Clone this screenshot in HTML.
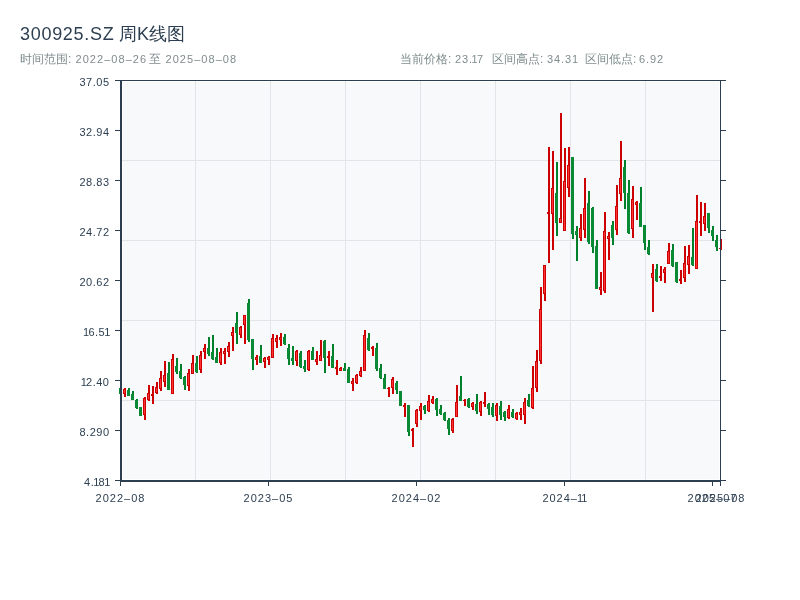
<!DOCTYPE html>
<html><head><meta charset="utf-8"><style>
html,body{margin:0;padding:0;background:#fff;}
body{width:800px;height:600px;position:relative;overflow:hidden;font-family:"Liberation Sans",sans-serif;}
#wrap{position:absolute;left:0;top:0;width:800px;height:600px;will-change:transform;}
.t{position:absolute;white-space:nowrap;line-height:1;}
.ti{font-size:18px;color:#2c3e50;}
.s{font-size:12px;color:#7f8c8d;}
.n{font-size:11px;letter-spacing:0.9px;}
.d{letter-spacing:1.05px;}
.ax{font-size:11px;color:#2c3e50;letter-spacing:0.75px;}
.yl{width:60px;text-align:right;letter-spacing:0.5px;}
.one{margin-left:-1px;letter-spacing:-0.8px;}
.xl{width:80px;text-align:center;letter-spacing:1px;}
svg{position:absolute;left:0;top:0;}
</style></head><body><div id="wrap">
<svg width="800" height="600" viewBox="0 0 800 600" shape-rendering="crispEdges">
<rect x="123" y="82" width="596" height="397" fill="#f8f9fa"/>
<rect x="195" y="81" width="1" height="399" fill="#e1e4e8"/>
<rect x="270" y="81" width="1" height="399" fill="#e1e4e8"/>
<rect x="345" y="81" width="1" height="399" fill="#e1e4e8"/>
<rect x="420" y="81" width="1" height="399" fill="#e1e4e8"/>
<rect x="495" y="81" width="1" height="399" fill="#e1e4e8"/>
<rect x="570" y="81" width="1" height="399" fill="#e1e4e8"/>
<rect x="645" y="81" width="1" height="399" fill="#e1e4e8"/>
<rect x="122" y="160" width="598" height="1" fill="#e1e4e8"/>
<rect x="122" y="240" width="598" height="1" fill="#e1e4e8"/>
<rect x="122" y="320" width="598" height="1" fill="#e1e4e8"/>
<rect x="122" y="400" width="598" height="1" fill="#e1e4e8"/>
<rect x="120" y="388" width="2" height="6" fill="#00802b"/>
<rect x="119" y="388" width="3" height="6" fill="#0a8a35"/>
<rect x="124" y="388" width="2" height="9" fill="#cc0000"/>
<rect x="123" y="389" width="3" height="5" fill="#cc0000"/>
<rect x="124" y="390" width="1" height="3" fill="#ff3333"/>
<rect x="128" y="388" width="2" height="8" fill="#00802b"/>
<rect x="127" y="390" width="3" height="6" fill="#0a8a35"/>
<rect x="132" y="391" width="2" height="9" fill="#00802b"/>
<rect x="131" y="394" width="3" height="6" fill="#0a8a35"/>
<rect x="136" y="399" width="2" height="10" fill="#00802b"/>
<rect x="135" y="400" width="3" height="8" fill="#0a8a35"/>
<rect x="140" y="407" width="2" height="9" fill="#00802b"/>
<rect x="139" y="407" width="3" height="9" fill="#0a8a35"/>
<rect x="144" y="397" width="2" height="23" fill="#cc0000"/>
<rect x="143" y="398" width="3" height="17" fill="#cc0000"/>
<rect x="144" y="399" width="1" height="15" fill="#ff3333"/>
<rect x="148" y="385" width="2" height="16" fill="#cc0000"/>
<rect x="147" y="393" width="3" height="7" fill="#cc0000"/>
<rect x="148" y="394" width="1" height="5" fill="#ff3333"/>
<rect x="152" y="386" width="2" height="18" fill="#cc0000"/>
<rect x="151" y="394" width="3" height="2" fill="#cc0000"/>
<rect x="156" y="382" width="2" height="12" fill="#cc0000"/>
<rect x="155" y="387" width="3" height="6" fill="#cc0000"/>
<rect x="156" y="388" width="1" height="4" fill="#ff3333"/>
<rect x="160" y="371" width="2" height="20" fill="#cc0000"/>
<rect x="159" y="378" width="3" height="11" fill="#cc0000"/>
<rect x="160" y="379" width="1" height="9" fill="#ff3333"/>
<rect x="164" y="361" width="2" height="26" fill="#cc0000"/>
<rect x="163" y="375" width="3" height="7" fill="#cc0000"/>
<rect x="164" y="376" width="1" height="5" fill="#ff3333"/>
<rect x="168" y="362" width="2" height="28" fill="#00802b"/>
<rect x="167" y="373" width="3" height="17" fill="#0a8a35"/>
<rect x="172" y="354" width="2" height="40" fill="#cc0000"/>
<rect x="171" y="359" width="3" height="35" fill="#cc0000"/>
<rect x="172" y="360" width="1" height="33" fill="#ff3333"/>
<rect x="176" y="358" width="2" height="16" fill="#00802b"/>
<rect x="175" y="366" width="3" height="6" fill="#0a8a35"/>
<rect x="180" y="364" width="2" height="15" fill="#00802b"/>
<rect x="179" y="371" width="3" height="7" fill="#0a8a35"/>
<rect x="184" y="376" width="2" height="14" fill="#00802b"/>
<rect x="183" y="377" width="3" height="8" fill="#0a8a35"/>
<rect x="188" y="369" width="2" height="22" fill="#cc0000"/>
<rect x="187" y="373" width="3" height="13" fill="#cc0000"/>
<rect x="188" y="374" width="1" height="11" fill="#ff3333"/>
<rect x="192" y="355" width="2" height="19" fill="#cc0000"/>
<rect x="191" y="363" width="3" height="11" fill="#cc0000"/>
<rect x="192" y="364" width="1" height="9" fill="#ff3333"/>
<rect x="196" y="356" width="2" height="17" fill="#00802b"/>
<rect x="195" y="363" width="3" height="9" fill="#0a8a35"/>
<rect x="200" y="351" width="2" height="22" fill="#cc0000"/>
<rect x="199" y="355" width="3" height="15" fill="#cc0000"/>
<rect x="200" y="356" width="1" height="13" fill="#ff3333"/>
<rect x="204" y="344" width="2" height="15" fill="#cc0000"/>
<rect x="203" y="348" width="3" height="4" fill="#cc0000"/>
<rect x="204" y="349" width="1" height="2" fill="#ff3333"/>
<rect x="208" y="337" width="2" height="19" fill="#00802b"/>
<rect x="207" y="348" width="3" height="6" fill="#0a8a35"/>
<rect x="212" y="335" width="2" height="25" fill="#00802b"/>
<rect x="211" y="352" width="3" height="7" fill="#0a8a35"/>
<rect x="216" y="348" width="2" height="15" fill="#00802b"/>
<rect x="215" y="357" width="3" height="6" fill="#0a8a35"/>
<rect x="220" y="348" width="2" height="17" fill="#cc0000"/>
<rect x="219" y="352" width="3" height="11" fill="#cc0000"/>
<rect x="220" y="353" width="1" height="9" fill="#ff3333"/>
<rect x="224" y="348" width="2" height="16" fill="#cc0000"/>
<rect x="223" y="351" width="3" height="3" fill="#cc0000"/>
<rect x="224" y="352" width="1" height="1" fill="#ff3333"/>
<rect x="228" y="342" width="2" height="15" fill="#cc0000"/>
<rect x="227" y="346" width="3" height="6" fill="#cc0000"/>
<rect x="228" y="347" width="1" height="4" fill="#ff3333"/>
<rect x="232" y="327" width="2" height="24" fill="#cc0000"/>
<rect x="231" y="332" width="3" height="4" fill="#cc0000"/>
<rect x="232" y="333" width="1" height="2" fill="#ff3333"/>
<rect x="236" y="312" width="2" height="32" fill="#00802b"/>
<rect x="235" y="323" width="3" height="10" fill="#0a8a35"/>
<rect x="240" y="326" width="2" height="12" fill="#cc0000"/>
<rect x="239" y="327" width="3" height="8" fill="#cc0000"/>
<rect x="240" y="328" width="1" height="6" fill="#ff3333"/>
<rect x="244" y="315" width="2" height="29" fill="#cc0000"/>
<rect x="243" y="315" width="3" height="10" fill="#cc0000"/>
<rect x="244" y="316" width="1" height="8" fill="#ff3333"/>
<rect x="248" y="299" width="2" height="43" fill="#00802b"/>
<rect x="247" y="303" width="3" height="37" fill="#0a8a35"/>
<rect x="252" y="339" width="2" height="31" fill="#00802b"/>
<rect x="251" y="339" width="3" height="20" fill="#0a8a35"/>
<rect x="256" y="355" width="2" height="10" fill="#cc0000"/>
<rect x="255" y="357" width="3" height="3" fill="#cc0000"/>
<rect x="256" y="358" width="1" height="1" fill="#ff3333"/>
<rect x="260" y="345" width="2" height="18" fill="#00802b"/>
<rect x="259" y="356" width="3" height="7" fill="#0a8a35"/>
<rect x="264" y="357" width="2" height="11" fill="#cc0000"/>
<rect x="263" y="358" width="3" height="4" fill="#cc0000"/>
<rect x="264" y="359" width="1" height="2" fill="#ff3333"/>
<rect x="268" y="356" width="2" height="9" fill="#cc0000"/>
<rect x="267" y="357" width="3" height="3" fill="#cc0000"/>
<rect x="268" y="358" width="1" height="1" fill="#ff3333"/>
<rect x="272" y="334" width="2" height="24" fill="#cc0000"/>
<rect x="271" y="338" width="3" height="20" fill="#cc0000"/>
<rect x="272" y="339" width="1" height="18" fill="#ff3333"/>
<rect x="276" y="335" width="2" height="13" fill="#cc0000"/>
<rect x="275" y="338" width="3" height="4" fill="#cc0000"/>
<rect x="276" y="339" width="1" height="2" fill="#ff3333"/>
<rect x="280" y="333" width="2" height="13" fill="#cc0000"/>
<rect x="279" y="337" width="3" height="3" fill="#cc0000"/>
<rect x="280" y="338" width="1" height="1" fill="#ff3333"/>
<rect x="284" y="334" width="2" height="11" fill="#00802b"/>
<rect x="283" y="337" width="3" height="7" fill="#0a8a35"/>
<rect x="288" y="344" width="2" height="21" fill="#00802b"/>
<rect x="287" y="348" width="3" height="11" fill="#0a8a35"/>
<rect x="292" y="346" width="2" height="19" fill="#00802b"/>
<rect x="291" y="358" width="3" height="3" fill="#0a8a35"/>
<rect x="296" y="350" width="2" height="16" fill="#cc0000"/>
<rect x="295" y="351" width="3" height="10" fill="#cc0000"/>
<rect x="296" y="352" width="1" height="8" fill="#ff3333"/>
<rect x="300" y="351" width="2" height="17" fill="#00802b"/>
<rect x="299" y="353" width="3" height="14" fill="#0a8a35"/>
<rect x="304" y="360" width="2" height="12" fill="#00802b"/>
<rect x="303" y="366" width="3" height="3" fill="#0a8a35"/>
<rect x="308" y="350" width="2" height="21" fill="#cc0000"/>
<rect x="307" y="351" width="3" height="19" fill="#cc0000"/>
<rect x="308" y="352" width="1" height="17" fill="#ff3333"/>
<rect x="312" y="347" width="2" height="13" fill="#00802b"/>
<rect x="311" y="351" width="3" height="9" fill="#0a8a35"/>
<rect x="316" y="351" width="2" height="14" fill="#cc0000"/>
<rect x="315" y="359" width="3" height="3" fill="#cc0000"/>
<rect x="316" y="360" width="1" height="1" fill="#ff3333"/>
<rect x="320" y="340" width="2" height="21" fill="#cc0000"/>
<rect x="319" y="355" width="3" height="6" fill="#cc0000"/>
<rect x="320" y="356" width="1" height="4" fill="#ff3333"/>
<rect x="324" y="340" width="2" height="33" fill="#00802b"/>
<rect x="323" y="341" width="3" height="17" fill="#0a8a35"/>
<rect x="328" y="351" width="2" height="15" fill="#cc0000"/>
<rect x="327" y="356" width="3" height="2" fill="#cc0000"/>
<rect x="332" y="344" width="2" height="24" fill="#00802b"/>
<rect x="331" y="356" width="3" height="12" fill="#0a8a35"/>
<rect x="336" y="360" width="2" height="15" fill="#cc0000"/>
<rect x="335" y="367" width="3" height="2" fill="#cc0000"/>
<rect x="340" y="367" width="2" height="4" fill="#cc0000"/>
<rect x="339" y="368" width="3" height="3" fill="#cc0000"/>
<rect x="340" y="369" width="1" height="1" fill="#ff3333"/>
<rect x="344" y="363" width="2" height="8" fill="#00802b"/>
<rect x="343" y="368" width="3" height="3" fill="#0a8a35"/>
<rect x="348" y="367" width="2" height="16" fill="#00802b"/>
<rect x="347" y="369" width="3" height="14" fill="#0a8a35"/>
<rect x="352" y="378" width="2" height="13" fill="#cc0000"/>
<rect x="351" y="381" width="3" height="3" fill="#cc0000"/>
<rect x="352" y="382" width="1" height="1" fill="#ff3333"/>
<rect x="356" y="374" width="2" height="10" fill="#cc0000"/>
<rect x="355" y="375" width="3" height="8" fill="#cc0000"/>
<rect x="356" y="376" width="1" height="6" fill="#ff3333"/>
<rect x="360" y="367" width="2" height="10" fill="#cc0000"/>
<rect x="359" y="371" width="3" height="5" fill="#cc0000"/>
<rect x="360" y="372" width="1" height="3" fill="#ff3333"/>
<rect x="364" y="330" width="2" height="41" fill="#cc0000"/>
<rect x="363" y="335" width="3" height="36" fill="#cc0000"/>
<rect x="364" y="336" width="1" height="34" fill="#ff3333"/>
<rect x="368" y="333" width="2" height="18" fill="#00802b"/>
<rect x="367" y="338" width="3" height="12" fill="#0a8a35"/>
<rect x="372" y="346" width="2" height="10" fill="#cc0000"/>
<rect x="371" y="347" width="3" height="2" fill="#cc0000"/>
<rect x="376" y="343" width="2" height="28" fill="#00802b"/>
<rect x="375" y="348" width="3" height="21" fill="#0a8a35"/>
<rect x="380" y="364" width="2" height="15" fill="#00802b"/>
<rect x="379" y="368" width="3" height="10" fill="#0a8a35"/>
<rect x="384" y="374" width="2" height="15" fill="#00802b"/>
<rect x="383" y="378" width="3" height="11" fill="#0a8a35"/>
<rect x="388" y="387" width="2" height="10" fill="#cc0000"/>
<rect x="387" y="388" width="3" height="1" fill="#cc0000"/>
<rect x="392" y="377" width="2" height="17" fill="#cc0000"/>
<rect x="391" y="379" width="3" height="9" fill="#cc0000"/>
<rect x="392" y="380" width="1" height="7" fill="#ff3333"/>
<rect x="396" y="381" width="2" height="13" fill="#00802b"/>
<rect x="395" y="383" width="3" height="7" fill="#0a8a35"/>
<rect x="400" y="391" width="2" height="15" fill="#00802b"/>
<rect x="399" y="391" width="3" height="15" fill="#0a8a35"/>
<rect x="404" y="403" width="2" height="14" fill="#cc0000"/>
<rect x="403" y="405" width="3" height="2" fill="#cc0000"/>
<rect x="408" y="405" width="2" height="31" fill="#00802b"/>
<rect x="407" y="405" width="3" height="27" fill="#0a8a35"/>
<rect x="412" y="428" width="2" height="19" fill="#cc0000"/>
<rect x="411" y="429" width="3" height="2" fill="#cc0000"/>
<rect x="416" y="409" width="2" height="18" fill="#cc0000"/>
<rect x="415" y="410" width="3" height="14" fill="#cc0000"/>
<rect x="416" y="411" width="1" height="12" fill="#ff3333"/>
<rect x="420" y="403" width="2" height="17" fill="#cc0000"/>
<rect x="419" y="406" width="3" height="5" fill="#cc0000"/>
<rect x="420" y="407" width="1" height="3" fill="#ff3333"/>
<rect x="424" y="405" width="2" height="9" fill="#00802b"/>
<rect x="423" y="406" width="3" height="4" fill="#0a8a35"/>
<rect x="428" y="395" width="2" height="17" fill="#cc0000"/>
<rect x="427" y="401" width="3" height="10" fill="#cc0000"/>
<rect x="428" y="402" width="1" height="8" fill="#ff3333"/>
<rect x="432" y="396" width="2" height="8" fill="#cc0000"/>
<rect x="431" y="399" width="3" height="4" fill="#cc0000"/>
<rect x="432" y="400" width="1" height="2" fill="#ff3333"/>
<rect x="436" y="398" width="2" height="18" fill="#00802b"/>
<rect x="435" y="399" width="3" height="11" fill="#0a8a35"/>
<rect x="440" y="405" width="2" height="10" fill="#00802b"/>
<rect x="439" y="409" width="3" height="5" fill="#0a8a35"/>
<rect x="444" y="412" width="2" height="9" fill="#00802b"/>
<rect x="443" y="413" width="3" height="7" fill="#0a8a35"/>
<rect x="448" y="418" width="2" height="17" fill="#00802b"/>
<rect x="447" y="420" width="3" height="9" fill="#0a8a35"/>
<rect x="452" y="418" width="2" height="15" fill="#cc0000"/>
<rect x="451" y="419" width="3" height="12" fill="#cc0000"/>
<rect x="452" y="420" width="1" height="10" fill="#ff3333"/>
<rect x="456" y="385" width="2" height="32" fill="#cc0000"/>
<rect x="455" y="402" width="3" height="15" fill="#cc0000"/>
<rect x="456" y="403" width="1" height="13" fill="#ff3333"/>
<rect x="460" y="376" width="2" height="25" fill="#00802b"/>
<rect x="459" y="396" width="3" height="5" fill="#0a8a35"/>
<rect x="464" y="399" width="2" height="7" fill="#cc0000"/>
<rect x="463" y="400" width="3" height="1" fill="#cc0000"/>
<rect x="468" y="398" width="2" height="10" fill="#00802b"/>
<rect x="467" y="399" width="3" height="8" fill="#0a8a35"/>
<rect x="472" y="402" width="2" height="8" fill="#cc0000"/>
<rect x="471" y="403" width="3" height="4" fill="#cc0000"/>
<rect x="472" y="404" width="1" height="2" fill="#ff3333"/>
<rect x="476" y="394" width="2" height="20" fill="#00802b"/>
<rect x="475" y="404" width="3" height="7" fill="#0a8a35"/>
<rect x="480" y="401" width="2" height="15" fill="#cc0000"/>
<rect x="479" y="402" width="3" height="10" fill="#cc0000"/>
<rect x="480" y="403" width="1" height="8" fill="#ff3333"/>
<rect x="484" y="392" width="2" height="15" fill="#cc0000"/>
<rect x="483" y="402" width="3" height="2" fill="#cc0000"/>
<rect x="488" y="403" width="2" height="12" fill="#00802b"/>
<rect x="487" y="404" width="3" height="5" fill="#0a8a35"/>
<rect x="492" y="403" width="2" height="14" fill="#00802b"/>
<rect x="491" y="407" width="3" height="8" fill="#0a8a35"/>
<rect x="496" y="403" width="2" height="18" fill="#cc0000"/>
<rect x="495" y="405" width="3" height="11" fill="#cc0000"/>
<rect x="496" y="406" width="1" height="9" fill="#ff3333"/>
<rect x="500" y="401" width="2" height="19" fill="#00802b"/>
<rect x="499" y="406" width="3" height="9" fill="#0a8a35"/>
<rect x="504" y="411" width="2" height="10" fill="#00802b"/>
<rect x="503" y="412" width="3" height="5" fill="#0a8a35"/>
<rect x="508" y="405" width="2" height="14" fill="#cc0000"/>
<rect x="507" y="409" width="3" height="9" fill="#cc0000"/>
<rect x="508" y="410" width="1" height="7" fill="#ff3333"/>
<rect x="512" y="409" width="2" height="9" fill="#00802b"/>
<rect x="511" y="412" width="3" height="5" fill="#0a8a35"/>
<rect x="516" y="412" width="2" height="8" fill="#cc0000"/>
<rect x="515" y="413" width="3" height="6" fill="#cc0000"/>
<rect x="516" y="414" width="1" height="4" fill="#ff3333"/>
<rect x="520" y="408" width="2" height="12" fill="#cc0000"/>
<rect x="519" y="412" width="3" height="3" fill="#cc0000"/>
<rect x="520" y="413" width="1" height="1" fill="#ff3333"/>
<rect x="524" y="398" width="2" height="26" fill="#cc0000"/>
<rect x="523" y="402" width="3" height="13" fill="#cc0000"/>
<rect x="524" y="403" width="1" height="11" fill="#ff3333"/>
<rect x="528" y="394" width="2" height="13" fill="#00802b"/>
<rect x="527" y="400" width="3" height="6" fill="#0a8a35"/>
<rect x="532" y="366" width="2" height="43" fill="#cc0000"/>
<rect x="531" y="388" width="3" height="20" fill="#cc0000"/>
<rect x="532" y="389" width="1" height="18" fill="#ff3333"/>
<rect x="536" y="350" width="2" height="42" fill="#cc0000"/>
<rect x="535" y="361" width="3" height="27" fill="#cc0000"/>
<rect x="536" y="362" width="1" height="25" fill="#ff3333"/>
<rect x="540" y="287" width="2" height="77" fill="#cc0000"/>
<rect x="539" y="309" width="3" height="52" fill="#cc0000"/>
<rect x="540" y="310" width="1" height="50" fill="#ff3333"/>
<rect x="544" y="265" width="2" height="36" fill="#cc0000"/>
<rect x="543" y="265" width="3" height="29" fill="#cc0000"/>
<rect x="544" y="266" width="1" height="27" fill="#ff3333"/>
<rect x="548" y="147" width="2" height="116" fill="#cc0000"/>
<rect x="547" y="212" width="3" height="2" fill="#cc0000"/>
<rect x="552" y="151" width="2" height="99" fill="#cc0000"/>
<rect x="551" y="188" width="3" height="26" fill="#cc0000"/>
<rect x="552" y="189" width="1" height="24" fill="#ff3333"/>
<rect x="556" y="162" width="2" height="74" fill="#00802b"/>
<rect x="555" y="193" width="3" height="30" fill="#0a8a35"/>
<rect x="560" y="113" width="2" height="110" fill="#cc0000"/>
<rect x="559" y="218" width="3" height="5" fill="#cc0000"/>
<rect x="560" y="219" width="1" height="3" fill="#ff3333"/>
<rect x="564" y="148" width="2" height="83" fill="#cc0000"/>
<rect x="563" y="181" width="3" height="50" fill="#cc0000"/>
<rect x="564" y="182" width="1" height="48" fill="#ff3333"/>
<rect x="568" y="147" width="2" height="50" fill="#cc0000"/>
<rect x="567" y="165" width="3" height="23" fill="#cc0000"/>
<rect x="568" y="166" width="1" height="21" fill="#ff3333"/>
<rect x="572" y="157" width="2" height="82" fill="#00802b"/>
<rect x="571" y="157" width="3" height="77" fill="#0a8a35"/>
<rect x="576" y="226" width="2" height="35" fill="#00802b"/>
<rect x="575" y="231" width="3" height="4" fill="#0a8a35"/>
<rect x="580" y="214" width="2" height="27" fill="#cc0000"/>
<rect x="579" y="228" width="3" height="10" fill="#cc0000"/>
<rect x="580" y="229" width="1" height="8" fill="#ff3333"/>
<rect x="584" y="178" width="2" height="60" fill="#cc0000"/>
<rect x="583" y="208" width="3" height="22" fill="#cc0000"/>
<rect x="584" y="209" width="1" height="20" fill="#ff3333"/>
<rect x="588" y="191" width="2" height="53" fill="#00802b"/>
<rect x="587" y="203" width="3" height="39" fill="#0a8a35"/>
<rect x="592" y="207" width="2" height="46" fill="#00802b"/>
<rect x="591" y="208" width="3" height="39" fill="#0a8a35"/>
<rect x="596" y="240" width="2" height="49" fill="#00802b"/>
<rect x="595" y="246" width="3" height="43" fill="#0a8a35"/>
<rect x="600" y="272" width="2" height="23" fill="#cc0000"/>
<rect x="599" y="287" width="3" height="3" fill="#cc0000"/>
<rect x="600" y="288" width="1" height="1" fill="#ff3333"/>
<rect x="604" y="212" width="2" height="81" fill="#cc0000"/>
<rect x="603" y="231" width="3" height="60" fill="#cc0000"/>
<rect x="604" y="232" width="1" height="58" fill="#ff3333"/>
<rect x="608" y="232" width="2" height="28" fill="#cc0000"/>
<rect x="607" y="236" width="3" height="3" fill="#cc0000"/>
<rect x="608" y="237" width="1" height="1" fill="#ff3333"/>
<rect x="612" y="221" width="2" height="24" fill="#00802b"/>
<rect x="611" y="225" width="3" height="13" fill="#0a8a35"/>
<rect x="616" y="185" width="2" height="50" fill="#cc0000"/>
<rect x="615" y="206" width="3" height="24" fill="#cc0000"/>
<rect x="616" y="207" width="1" height="22" fill="#ff3333"/>
<rect x="620" y="141" width="2" height="60" fill="#cc0000"/>
<rect x="619" y="178" width="3" height="16" fill="#cc0000"/>
<rect x="620" y="179" width="1" height="14" fill="#ff3333"/>
<rect x="624" y="160" width="2" height="49" fill="#00802b"/>
<rect x="623" y="167" width="3" height="26" fill="#0a8a35"/>
<rect x="628" y="180" width="2" height="54" fill="#00802b"/>
<rect x="627" y="193" width="3" height="40" fill="#0a8a35"/>
<rect x="632" y="186" width="2" height="52" fill="#cc0000"/>
<rect x="631" y="199" width="3" height="30" fill="#cc0000"/>
<rect x="632" y="200" width="1" height="28" fill="#ff3333"/>
<rect x="636" y="201" width="2" height="19" fill="#cc0000"/>
<rect x="635" y="202" width="3" height="3" fill="#cc0000"/>
<rect x="636" y="203" width="1" height="1" fill="#ff3333"/>
<rect x="640" y="187" width="2" height="40" fill="#00802b"/>
<rect x="639" y="203" width="3" height="24" fill="#0a8a35"/>
<rect x="644" y="225" width="2" height="25" fill="#00802b"/>
<rect x="643" y="225" width="3" height="18" fill="#0a8a35"/>
<rect x="648" y="240" width="2" height="15" fill="#00802b"/>
<rect x="647" y="247" width="3" height="7" fill="#0a8a35"/>
<rect x="652" y="264" width="2" height="48" fill="#cc0000"/>
<rect x="651" y="273" width="3" height="5" fill="#cc0000"/>
<rect x="652" y="274" width="1" height="3" fill="#ff3333"/>
<rect x="656" y="264" width="2" height="18" fill="#00802b"/>
<rect x="655" y="269" width="3" height="12" fill="#0a8a35"/>
<rect x="660" y="266" width="2" height="15" fill="#cc0000"/>
<rect x="659" y="276" width="3" height="2" fill="#cc0000"/>
<rect x="664" y="267" width="2" height="16" fill="#cc0000"/>
<rect x="663" y="269" width="3" height="4" fill="#cc0000"/>
<rect x="664" y="270" width="1" height="2" fill="#ff3333"/>
<rect x="668" y="243" width="2" height="21" fill="#cc0000"/>
<rect x="667" y="251" width="3" height="13" fill="#cc0000"/>
<rect x="668" y="252" width="1" height="11" fill="#ff3333"/>
<rect x="672" y="244" width="2" height="23" fill="#00802b"/>
<rect x="671" y="250" width="3" height="16" fill="#0a8a35"/>
<rect x="676" y="262" width="2" height="21" fill="#00802b"/>
<rect x="675" y="262" width="3" height="20" fill="#0a8a35"/>
<rect x="680" y="270" width="2" height="14" fill="#cc0000"/>
<rect x="679" y="279" width="3" height="2" fill="#cc0000"/>
<rect x="684" y="246" width="2" height="36" fill="#cc0000"/>
<rect x="683" y="263" width="3" height="15" fill="#cc0000"/>
<rect x="684" y="264" width="1" height="13" fill="#ff3333"/>
<rect x="688" y="245" width="2" height="29" fill="#cc0000"/>
<rect x="687" y="256" width="3" height="9" fill="#cc0000"/>
<rect x="688" y="257" width="1" height="7" fill="#ff3333"/>
<rect x="692" y="228" width="2" height="38" fill="#00802b"/>
<rect x="691" y="257" width="3" height="8" fill="#0a8a35"/>
<rect x="696" y="195" width="2" height="74" fill="#cc0000"/>
<rect x="695" y="221" width="3" height="48" fill="#cc0000"/>
<rect x="696" y="222" width="1" height="46" fill="#ff3333"/>
<rect x="700" y="202" width="2" height="34" fill="#cc0000"/>
<rect x="699" y="221" width="3" height="2" fill="#cc0000"/>
<rect x="704" y="203" width="2" height="28" fill="#cc0000"/>
<rect x="703" y="216" width="3" height="8" fill="#cc0000"/>
<rect x="704" y="217" width="1" height="6" fill="#ff3333"/>
<rect x="708" y="213" width="2" height="20" fill="#00802b"/>
<rect x="707" y="213" width="3" height="15" fill="#0a8a35"/>
<rect x="712" y="226" width="2" height="15" fill="#00802b"/>
<rect x="711" y="230" width="3" height="6" fill="#0a8a35"/>
<rect x="716" y="235" width="2" height="16" fill="#00802b"/>
<rect x="715" y="240" width="3" height="7" fill="#0a8a35"/>
<rect x="720" y="239" width="2" height="11" fill="#cc0000"/>
<rect x="719" y="248" width="3" height="1" fill="#cc0000"/>
<rect x="115" y="80" width="611" height="1" fill="#2c3e50"/>
<rect x="120" y="80" width="2" height="402" fill="#2c3e50"/>
<rect x="120" y="482" width="1" height="4" fill="#2c3e50"/>
<rect x="120" y="480" width="600" height="2" fill="#2c3e50"/>
<rect x="115" y="480" width="611" height="1" fill="#2c3e50"/>
<rect x="720" y="80" width="1" height="406" fill="#2c3e50"/>
<rect x="115" y="80" width="5" height="1" fill="#2c3e50"/>
<rect x="721" y="80" width="5" height="1" fill="#2c3e50"/>
<rect x="115" y="130" width="5" height="1" fill="#2c3e50"/>
<rect x="721" y="130" width="5" height="1" fill="#2c3e50"/>
<rect x="115" y="180" width="5" height="1" fill="#2c3e50"/>
<rect x="721" y="180" width="5" height="1" fill="#2c3e50"/>
<rect x="115" y="230" width="5" height="1" fill="#2c3e50"/>
<rect x="721" y="230" width="5" height="1" fill="#2c3e50"/>
<rect x="115" y="280" width="5" height="1" fill="#2c3e50"/>
<rect x="721" y="280" width="5" height="1" fill="#2c3e50"/>
<rect x="115" y="330" width="5" height="1" fill="#2c3e50"/>
<rect x="721" y="330" width="5" height="1" fill="#2c3e50"/>
<rect x="115" y="380" width="5" height="1" fill="#2c3e50"/>
<rect x="721" y="380" width="5" height="1" fill="#2c3e50"/>
<rect x="115" y="430" width="5" height="1" fill="#2c3e50"/>
<rect x="721" y="430" width="5" height="1" fill="#2c3e50"/>
<rect x="115" y="480" width="5" height="1" fill="#2c3e50"/>
<rect x="721" y="480" width="5" height="1" fill="#2c3e50"/>
<rect x="120" y="482" width="1" height="4" fill="#2c3e50"/>
<rect x="268" y="482" width="1" height="4" fill="#2c3e50"/>
<rect x="416" y="482" width="1" height="4" fill="#2c3e50"/>
<rect x="564" y="482" width="1" height="4" fill="#2c3e50"/>
<rect x="712" y="482" width="1" height="4" fill="#2c3e50"/>
<rect x="720" y="482" width="1" height="4" fill="#2c3e50"/>
</svg>
<div class="t ti" style="left:20px;top:25px;letter-spacing:0.7px">300925.SZ</div>
<div class="t ti" style="left:119px;top:25px;">周K线图</div>
<div class="t s" style="left:20px;top:52.5px;">时间范围:</div>
<div class="t s n d" style="left:75.5px;top:54px;">2022–08–26</div>
<div class="t s" style="left:149px;top:52.5px;">至</div>
<div class="t s n d" style="left:165.5px;top:54px;">2025–08–08</div>
<div class="t s" style="left:400px;top:52.5px;">当前价格:</div>
<div class="t s n" style="left:455px;top:54px;">23.<span style="margin-left:-1.5px;letter-spacing:-0.6px">1</span>7</div>
<div class="t s" style="left:492px;top:52.5px;">区间高点:</div>
<div class="t s n" style="left:547px;top:54px;">34.31</div>
<div class="t s" style="left:585px;top:52.5px;">区间低点:</div>
<div class="t s n" style="left:639px;top:54px;">6.92</div>
<div class="t ax yl" style="left:49.5px;top:76.5px">37.05</div>
<div class="t ax yl" style="left:49.5px;top:126.5px">32.94</div>
<div class="t ax yl" style="left:49.5px;top:176.5px">28.83</div>
<div class="t ax yl" style="left:49.5px;top:226.5px">24.72</div>
<div class="t ax yl" style="left:49.5px;top:276.5px">20.62</div>
<div class="t ax yl" style="left:49.5px;top:326.5px"><span class="one">1</span>6.5<span class="one">1</span></div>
<div class="t ax yl" style="left:49.5px;top:376.5px"><span class="one">1</span>2.40</div>
<div class="t ax yl" style="left:49.5px;top:426.5px">8.290</div>
<div class="t ax yl" style="left:49.5px;top:476.5px">4.<span class="one">1</span>8<span class="one">1</span></div>
<div class="t ax xl" style="left:80.5px;top:493px">2022–08</div>
<div class="t ax xl" style="left:228.5px;top:493px">2023–05</div>
<div class="t ax xl" style="left:376.5px;top:493px">2024–02</div>
<div class="t ax xl" style="left:524.5px;top:493px">2024–<span class="one">1</span><span class="one">1</span></div>
<div class="t ax xl" style="left:672.5px;top:493px">2025–07</div>
<div class="t ax xl" style="left:680.5px;top:493px">2025–08</div>
</div></body></html>
